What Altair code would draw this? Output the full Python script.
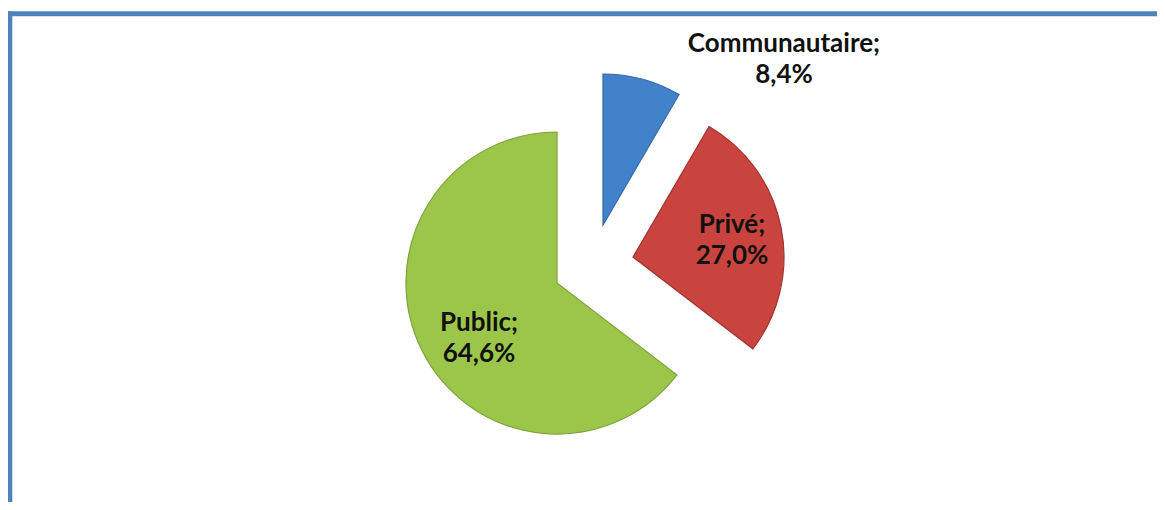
import altair as alt
import pandas as pd

# ---- data ----
categories = ["Communautaire", "Privé", "Public"]
shares = [8.4, 27.0, 64.6]
colors = ["#4282CA", "#C9443F", "#9CC64A"]
edge_colors = ["#336BAA", "#A33430", "#7FA33A"]

# ---- style / layout ----
W, H = 1149, 494
CX, CY = 549, 275          # pie centre (chart coords)
R = 151                    # pie radius
explode = {"Communautaire": (46, -58), "Privé": (76, -26), "Public": (0, 0)}
label_off = {"Communautaire": (227, -239), "Privé": (175, -58), "Public": (-78, 40)}
FRAME = "#4F81BD"

rows = []
for i, (c, s, col, ec) in enumerate(zip(categories, shares, colors, edge_colors)):
    dx, dy = explode[c]
    lx, ly = label_off[c]
    rows.append({
        "category": c, "share": s, "order": i, "color": col, "edge": ec,
        "px": CX + dx, "py": CY + dy,
        "lx": CX + lx, "ly": CY + ly,
        "label": f"{c};\n" + f"{s:.1f}".replace(".", ",") + "%",
    })
df = pd.DataFrame(rows)

base = alt.Chart(df).transform_window(
    cum="sum(share)", sort=[alt.SortField("order")], frame=[None, 0]
).transform_calculate(
    t1="datum.cum / 100 * 2 * PI",
    t0="(datum.cum - datum.share) / 100 * 2 * PI",
)

arcs = base.mark_arc(radius=R, strokeWidth=1.2).encode(
    x=alt.X("px:Q", scale=None),
    y=alt.Y("py:Q", scale=None),
    theta=alt.Theta("t0:Q", scale=None),
    theta2="t1:Q",
    color=alt.Color("color:N", scale=None),
    stroke=alt.Stroke("edge:N", scale=None),
)

labels = alt.Chart(df).mark_text(
    font="Lato", fontSize=26, fontWeight="bold", lineBreak="\n",
    lineHeight=31, align="center", baseline="middle", color="#111111",
).encode(
    x=alt.X("lx:Q", scale=None),
    y=alt.Y("ly:Q", scale=None),
    text="label:N",
)

frame_src = pd.DataFrame({"k": [0]})
top = alt.Chart(frame_src).mark_rule(color=FRAME, strokeWidth=5).encode(
    x=alt.value(-0.5), x2=alt.value(W), y=alt.value(5.8)
)
left = alt.Chart(frame_src).mark_rule(color=FRAME, strokeWidth=5).encode(
    x=alt.value(1.8), y=alt.value(3.3), y2=alt.value(H)
)

chart = alt.layer(arcs, labels, top, left).properties(
    width=W, height=H, padding=0,
    autosize=alt.AutoSizeParams(type="none"),
).configure_view(stroke=None)

chart.save("out.html", embed_options={"renderer": "svg", "actions": False})
